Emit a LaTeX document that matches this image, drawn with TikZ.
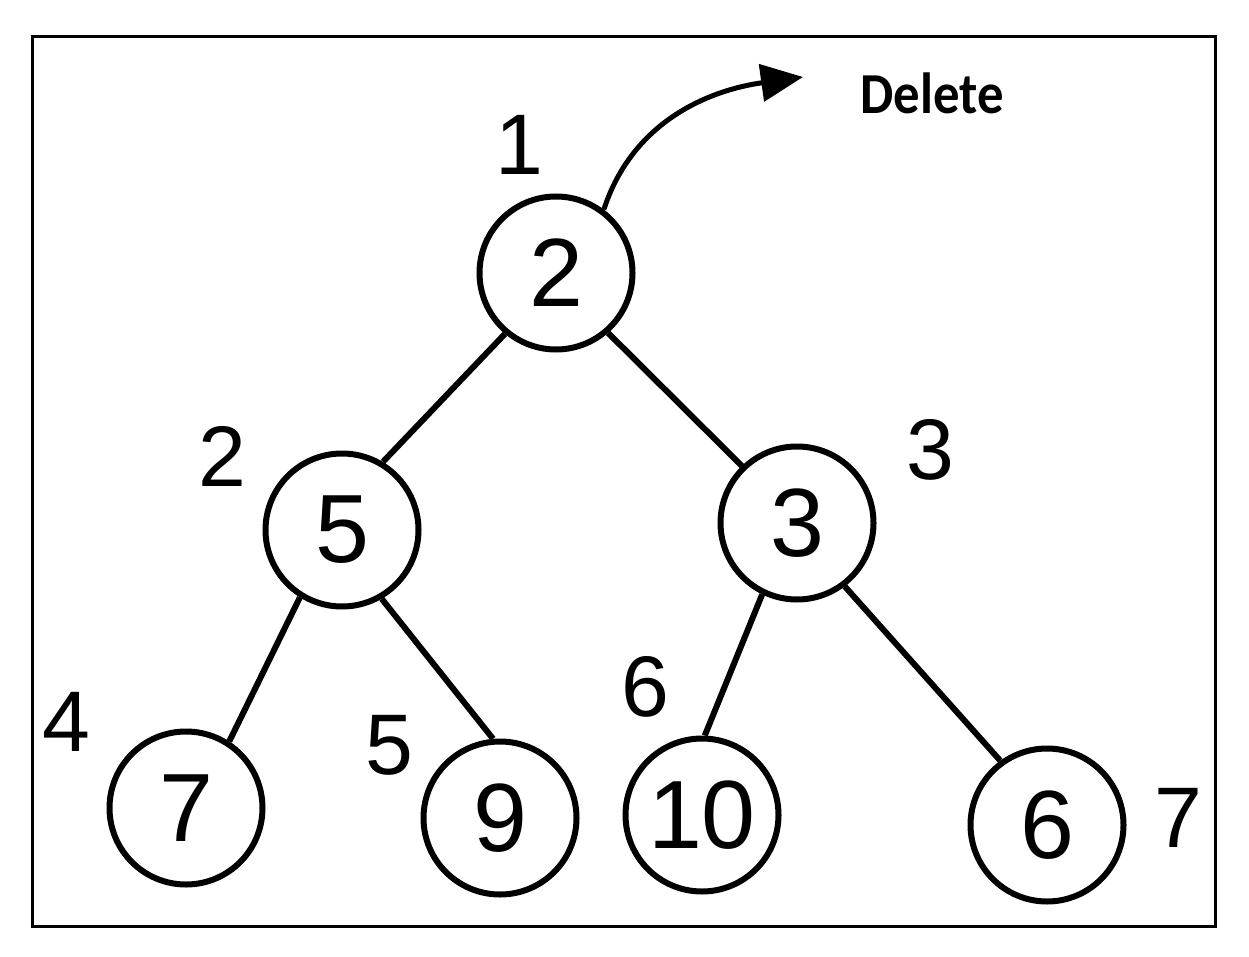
\documentclass[tikz,border=0pt]{standalone}
\usepackage{fontspec}
\setmainfont{Liberation Sans}
\newfontfamily\delfont{Carlito}
\usetikzlibrary{arrows.meta}
\begin{document}
\begin{tikzpicture}[x=1pt,y=-1pt,
  heapnode/.style={circle,draw,line width=6pt,minimum size=153pt,inner sep=0pt,font=\fontsize{97}{97}\selectfont},
  idx/.style={inner sep=0pt,font=\fontsize{86}{86}\selectfont},
  edge/.style={line width=6pt}]
\useasboundingbox (0,0) rectangle (1249,957);
\draw[line width=3pt] (32,37) rectangle (1215,926);
\node[heapnode] (n1) at (556,273) {2};
\node[heapnode] (n2) at (342,530) {5};
\node[heapnode] (n3) at (797,523) {3};
\node[heapnode] (n4) at (186,808) {7};
\node[heapnode] (n5) at (500,818) {9};
\node[heapnode] (n6) at (702,815) {10};
\node[heapnode] (n7) at (1047,825) {6};
\node[idx] (i1) at (519,145) {1};
\node[idx] (i2) at (222,456) {2};
\node[idx] (i3) at (930,450) {3};
\node[idx] (i4) at (66,722) {4};
\node[idx] (i5) at (389,745) {5};
\node[idx] (i6) at (645,687) {6};
\node[idx] (i7) at (1178,818) {7};
\draw[edge] (n1.230) -- (n2.59);
\draw[edge] (n1.311) -- (n3.134);
\draw[edge] (n2.238) -- (n4.57);
\draw[edge] (n2.300) -- (n5.95);
\draw[edge] (n3.244) -- (n6.88);
\draw[edge] (n3.307) -- (n7.126);
\node[inner sep=0pt,font=\delfont\bfseries\fontsize{58}{58}\selectfont,xscale=0.91] (del) at (932,93) {Delete};
\coordinate (tip) at (803,77);
\draw[line width=5pt,-{Triangle[length=42pt,width=37pt]}] (n1.53) to[out=72,in=188] (tip);
\end{tikzpicture}
\end{document}
